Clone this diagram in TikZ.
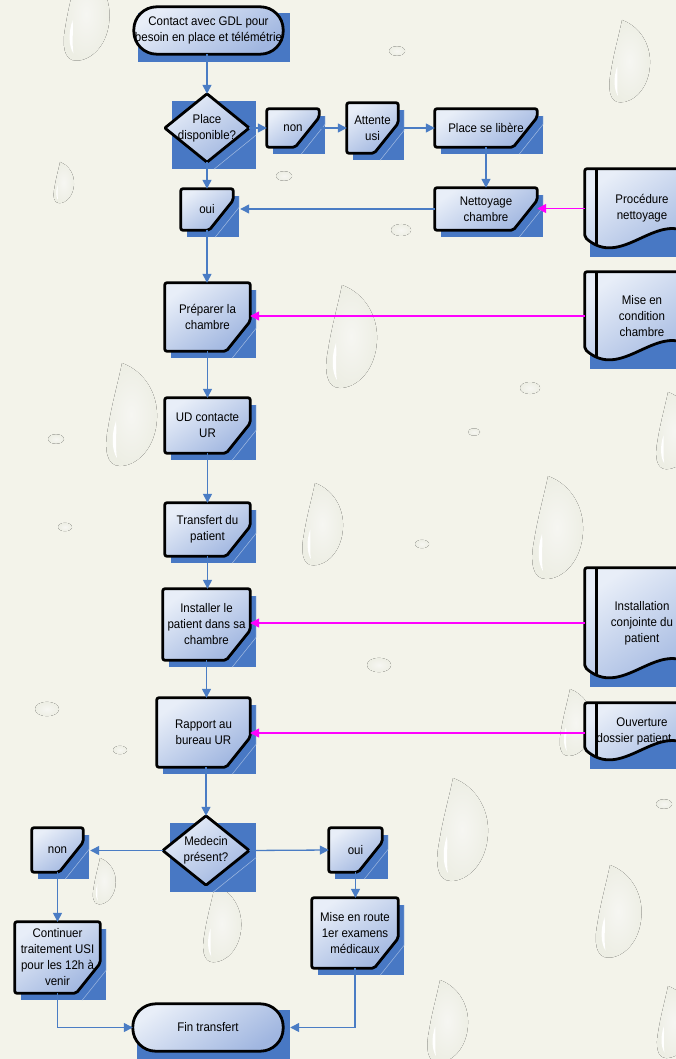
\documentclass[tikz,border=0pt]{standalone}
\usepackage{fontspec}
\setmainfont{Liberation Sans}[FakeStretch=0.92]
\usetikzlibrary{arrows.meta}
\pgfdeclarelayer{backdrop}
\pgfdeclarelayer{background}
\pgfsetlayers{backdrop,background,main}

\definecolor{bgcream}{RGB}{243,243,234}
\definecolor{shadowblue}{RGB}{72,120,196}
\definecolor{lineblue}{RGB}{74,124,196}
\definecolor{filltop}{RGB}{232,238,248}
\definecolor{fillbot}{RGB}{160,182,224}
\definecolor{feedpink}{RGB}{255,0,255}
\definecolor{dropin}{RGB}{246,246,242}
\definecolor{dropout}{RGB}{237,238,228}

\tikzset{
  boxtext/.style={inner sep=0pt, align=center, font=\fontsize{12.5}{16}\selectfont},
  boxline/.style={draw=black, line width=2.8pt, line join=round, rounded corners=2pt,
    top color=filltop, bottom color=fillbot, shading angle=35},
  boxshadow/.style={fill=shadowblue},
  shadowedge/.style={draw=shadowblue!50!white, line width=0.5pt},
  flowarrow/.style={draw=lineblue, line width=1.3pt, -{Triangle[length=9pt,width=9pt]}},
  feedarrow/.style={draw=feedpink, line width=1.6pt, -{Triangle[length=9pt,width=9pt]}},
  dropfill/.style={inner color=dropin, outer color=dropout},
}

% name, centre, width, height, text
\newcommand{\cardnode}[5]{%
  \node[boxtext, minimum width=#3, minimum height=#4] (#1) at (#2) {#5};
  \begin{pgfonlayer}{background}
    \fill[boxshadow] ([xshift=6pt,yshift=-7pt]#1.north west) rectangle ([xshift=6pt,yshift=-7pt]#1.south east);
    \draw[shadowedge] ([xshift=6pt,yshift=-7pt]#1.north east) -- ([xshift=6pt,yshift=23pt]#1.south east) -- ([xshift=-18pt,yshift=-7pt]#1.south east);
    \draw[boxline] (#1.north west) -- (#1.north east) -- ([yshift=30pt]#1.south east) -- ([xshift=-24pt]#1.south east) -- (#1.south west) -- cycle;
  \end{pgfonlayer}}
\newcommand{\decisionnode}[5]{%
  \node[boxtext, minimum width=#3, minimum height=#4] (#1) at (#2) {#5};
  \begin{pgfonlayer}{background}
    \fill[boxshadow] ([xshift=7pt,yshift=-7pt]#1.north west) rectangle ([xshift=7pt,yshift=-7pt]#1.south east);
    \draw[shadowedge] ([xshift=7pt,yshift=-7pt]#1.east) -- ([xshift=7pt,yshift=-7pt]#1.south);
    \draw[boxline, rounded corners=1pt] (#1.north) -- (#1.east) -- (#1.south) -- (#1.west) -- cycle;
  \end{pgfonlayer}}
\newcommand{\terminalnode}[5]{%
  \node[boxtext, minimum width=#3, minimum height=#4] (#1) at (#2) {#5};
  \begin{pgfonlayer}{background}
    \fill[boxshadow] ([xshift=4pt,yshift=-6pt]#1.north west) rectangle ([xshift=7pt,yshift=-8pt]#1.south east);
    \draw[boxline, rounded corners=23pt] (#1.north west) rectangle (#1.south east);
  \end{pgfonlayer}}
\newcommand{\docnode}[5]{%
  \node[boxtext, minimum width=#3, minimum height=#4] (#1) at (#2) {#5};
  \begin{pgfonlayer}{background}
    \fill[boxshadow] ([xshift=-7pt,yshift=-9pt]#1.north west) rectangle ([xshift=5pt,yshift=-9pt]#1.south east);
    \draw[boxline] ([xshift=-12pt]#1.north west) -- (#1.north east) -- ([yshift=16pt]#1.south east)
      .. controls ([xshift=-35pt,yshift=32pt]#1.south east) and ([xshift=23pt,yshift=-20pt]#1.south west)
      .. ([xshift=-12pt,yshift=11pt]#1.south west) -- cycle;
    \draw[black, line width=2.8pt] (#1.north west) -- ([yshift=3pt]#1.south west);
  \end{pgfonlayer}}
\newcommand{\waterdrop}[3]{%
  \begin{scope}[shift={(#1,#2)}, scale=#3]
    \fill[dropfill] (0,0) .. controls (22,8) and (36,30) .. (35,55) .. controls (34,85) and (15,103) .. (-2,103)
      .. controls (-16,103) and (-18,85) .. (-14,65) .. controls (-10,40) and (-4,20) .. (0,0) -- cycle;
    \fill[white] (-6,58) .. controls (-11,72) and (-10,88) .. (-5,95) .. controls (-7,84) and (-5,70) .. (-6,58) -- cycle;
  \end{scope}}

\begin{document}
\begin{tikzpicture}[x=1pt, y=-1pt]
  \useasboundingbox (0,0) rectangle (676,1059);
  \begin{pgfonlayer}{backdrop}
    \fill[bgcream] (0,0) rectangle (676,1059);
    \foreach \dx/\dy/\ds in {78/-32/0.9, 622/20/0.8, 60/162/0.4, 342/285/1, 122/363/1,
        668/392/0.75, 315/483/0.8, 548/476/1, 453/778/1, 215/885/0.75, 610/865/0.9,
        440/980/0.8, 668/986/0.7, 570/689/0.65, 100/858/0.45}
      \waterdrop{\dx}{\dy}{\ds};
    \foreach \ex/\ey/\er in {401/230/10, 530/388/10, 379/665/12, 47/709/12, 65/527/7,
        120/750/7, 422/544/7, 664/804/8, 56/439/8, 284/176/8, 397/51/8, 474/432/6}
      \fill[dropfill] (\ex,\ey) ellipse [x radius=\er, y radius=0.6*\er];
  \end{pgfonlayer}

  \terminalnode{start}{208.5,30.5}{149pt}{47pt}{Contact avec GDL pour\\besoin en place et télémétrie}
  \decisionnode{place}{207,128}{84pt}{68pt}{Place\\disponible?}
  \cardnode{nonA}{293,128}{52pt}{38pt}{non}
  \cardnode{attente}{372.5,128}{51pt}{50pt}{Attente\\usi}
  \cardnode{libere}{486,128}{102pt}{38pt}{Place se libère}
  \cardnode{nett}{486,209}{102pt}{42pt}{Nettoyage\\chambre}
  \cardnode{ouiA}{207,209.5}{52pt}{41pt}{oui}
  \cardnode{prep}{207.5,317}{85pt}{68pt}{Préparer la\\chambre}
  \cardnode{ud}{207.5,425.5}{85pt}{55pt}{UD contacte\\UR}
  \cardnode{transf}{207.5,529.5}{85pt}{53pt}{Transfert du\\patient}
  \cardnode{install}{206.5,624.5}{87pt}{71pt}{Installer le\\patient dans sa\\chambre}
  \cardnode{rapport}{203.5,732.5}{93pt}{69pt}{Rapport au\\bureau UR}
  \decisionnode{medecin}{206,850.5}{86pt}{69pt}{Medecin\\présent?}
  \cardnode{nonB}{57.5,850}{51pt}{44pt}{non}
  \cardnode{ouiB}{355.5,850}{53pt}{44pt}{oui}
  \cardnode{cont}{57.5,957.5}{85pt}{71pt}{Continuer\\traitement USI\\pour les 12h à\\venir}
  \cardnode{mise}{355,933}{86pt}{70pt}{Mise en route\\1er examens\\médicaux}
  \terminalnode{fin}{208,1027.5}{150pt}{47pt}{Fin transfert}

  \docnode{procA}{642,208.5}{90pt}{79pt}{Procédure\\nettoyage}
  \docnode{miseA}{642,316}{90pt}{88pt}{Mise en\\condition\\chambre}
  \docnode{instA}{642,623}{90pt}{110pt}{Installation\\conjointe du\\patient}
  \docnode{ouvA}{642,731.5}{90pt}{57pt}{Ouverture\\\hspace*{-16pt}dossier patient}

  \draw[flowarrow] (place.north |- start.south) -- (place.north);
  \draw[flowarrow] (place.east) -- (nonA.west);
  \draw[flowarrow] (nonA.east) -- (attente.west);
  \draw[flowarrow] (attente.east) -- (libere.west);
  \draw[flowarrow] (libere.south) -- (nett.north);
  \draw[flowarrow] (nett.west) -- ([xshift=7pt]nett.west -| ouiA.east);
  \draw[flowarrow] (place.south) -- (place.south |- ouiA.north);
  \draw[flowarrow] (ouiA.south) -- (ouiA.south |- prep.north);
  \draw[flowarrow] (prep.south) -- (ud.north);
  \draw[flowarrow] (ud.south) -- (transf.north);
  \draw[flowarrow] (transf.south) -- (transf.south |- install.north);
  \draw[flowarrow] (install.south) -- (install.south |- rapport.north);
  \draw[flowarrow] (medecin.north |- rapport.south) -- (medecin.north);
  \draw[flowarrow] (medecin.west) -- ([xshift=7pt]medecin.west -| nonB.east);
  \draw[flowarrow] (medecin.east) -- (ouiB.west);
  \draw[flowarrow] (nonB.south) -- (cont.north);
  \draw[flowarrow] (ouiB.south) -- (ouiB.south |- mise.north);
  \draw[flowarrow] (cont.south) |- (fin.west);
  \draw[flowarrow] (mise.south) |- ([xshift=7pt]fin.east);

  \draw[feedarrow] ([xshift=-12pt]procA.west) -- (procA.west -| nett.east);
  \draw[feedarrow] ([xshift=-12pt]miseA.west) -- (miseA.west -| prep.east);
  \draw[feedarrow] ([xshift=-12pt]instA.west) -- (instA.west -| install.east);
  \draw[feedarrow] ([xshift=-12pt,yshift=-1.5pt]ouvA.west) -- ([yshift=-1.5pt]ouvA.west -| rapport.east);
\end{tikzpicture}
\end{document}
